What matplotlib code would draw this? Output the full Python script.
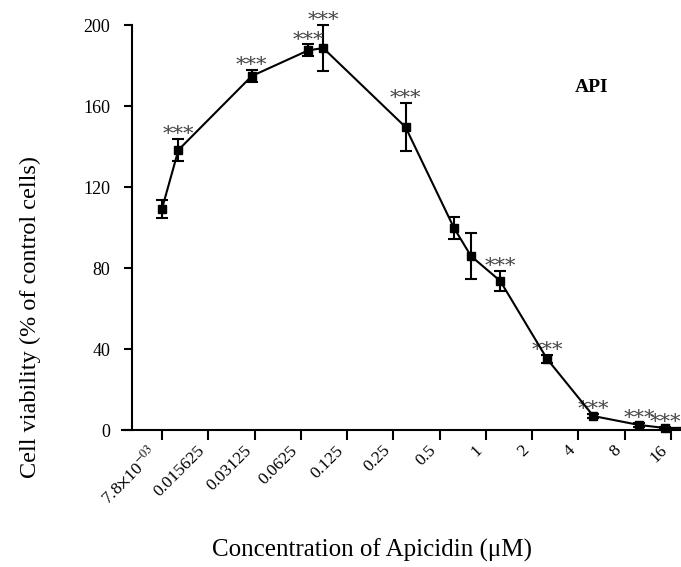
import numpy as np
import matplotlib
matplotlib.use('Agg')
import matplotlib.pyplot as plt

# values
conc = [0.0078, 0.01, 0.03, 0.07, 0.0875, 0.3, 0.62, 0.8, 1.24, 2.5, 5.0, 9.9, 14.6, 32.0]
viability = [109.0, 138.3, 174.8, 187.5, 188.6, 149.6, 99.8, 85.9, 73.6, 35.1, 6.9, 2.5, 1.0, 1.2]
sem = [4.5, 5.4, 3.0, 3.0, 11.5, 12.0, 5.5, 11.5, 5.0, 2.0, 1.0, 1.0, 0.5, 0.5]
signif = [False, True, True, True, True, True, False, False, True, True, True, True, True, False]

tick_vals = [0.0078125, 0.015625, 0.03125, 0.0625, 0.125, 0.25, 0.5, 1, 2, 4, 8, 16]
tick_labels = [r'7.8$\times$10$^{-03}$', '0.015625', '0.03125', '0.0625', '0.125',
               '0.25', '0.5', '1', '2', '4', '8', '16']
y_ticks = [0, 40, 80, 120, 160, 200]

SERIF = ['Liberation Serif', 'DejaVu Serif']
plt.rcParams['font.family'] = SERIF
plt.rcParams['mathtext.fontset'] = 'stix'

fig = plt.figure(figsize=(6.81, 5.67), dpi=100)
ax = fig.add_axes([0.1791, 0.2416, 0.8209, 0.7143])

ax.errorbar(conc, viability, yerr=sem, color='k', lw=1.5, marker='s', ms=6,
            mfc='k', mec='k', ecolor='k', elinewidth=1.5, capsize=4.5,
            capthick=1.5, clip_on=False, zorder=3)

# significance marks above the error bars
for x, y, e, s in zip(conc, viability, sem, signif):
    if s:
        ax.annotate('***', xy=(x, y + e), xytext=(0, -1), textcoords='offset points',
                    ha='center', va='baseline', fontsize=15, color='#444444',
                    family='DejaVu Serif', annotation_clip=False)

ax.set_xscale('log', base=2)
ax.set_xlim(2 ** -7.864, 2 ** 4.216)
ax.set_ylim(0, 200)

ax.set_xticks(tick_vals)
ax.set_xticklabels(tick_labels, rotation=45, ha='right', va='top')
ax.xaxis.set_minor_locator(matplotlib.ticker.NullLocator())
ax.set_yticks(y_ticks)

ax.spines['top'].set_visible(False)
ax.spines['right'].set_visible(False)
ax.spines['left'].set_position(('axes', 0.0179))
for sp in ('left', 'bottom'):
    ax.spines[sp].set_linewidth(1.5)

ax.tick_params(axis='x', direction='out', length=7, width=1.5, labelsize=12.5, pad=2)
ax.tick_params(axis='y', direction='out', length=5.5, width=1.5, labelsize=13, pad=10)

fig.text(0.044, 0.441, 'Cell viability (% of control cells)', rotation=90,
         ha='center', va='center', fontsize=17.5)
fig.text(0.546, 0.030, 'Concentration of Apicidin (\u03bcM)', ha='center',
         va='center', fontsize=18)
ax.text(0.84, 0.845, 'API', transform=ax.transAxes, ha='center', va='center',
        fontsize=14, fontweight='bold')

fig.savefig('out.png', dpi=100)
